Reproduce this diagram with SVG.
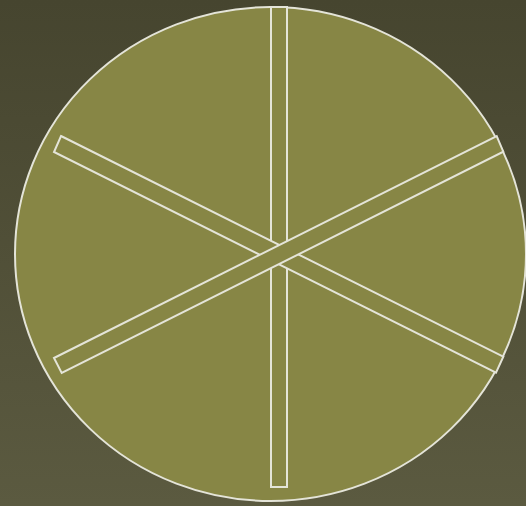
<svg xmlns="http://www.w3.org/2000/svg" width="526" height="506" viewBox="0 0 526 506">
  <defs>
    <linearGradient id="bg" x1="0" y1="0" x2="0" y2="1">
      <stop offset="0" stop-color="#46452f"/>
      <stop offset="1" stop-color="#5b5a40"/>
    </linearGradient>
    <style>
      .shape { fill: #878645; stroke: #e4e4d8; stroke-width: 2; }
    </style>
  </defs>
  <rect x="0" y="0" width="526" height="506" fill="url(#bg)"/>
  <g id="wheel">
    <ellipse class="shape" cx="270.5" cy="254" rx="255.5" ry="247"/>
  </g>
  <g id="spokes">
    <rect id="spoke-vertical" class="shape" x="271" y="7" width="16" height="480"/>
    <polygon id="spoke-descending" class="shape" points="61,136 503.3,356.7 496,372.7 54,152"/>
    <polygon id="spoke-ascending" class="shape" points="54,358 496.7,136 503.3,151.7 61.7,373"/>
  </g>
</svg>
